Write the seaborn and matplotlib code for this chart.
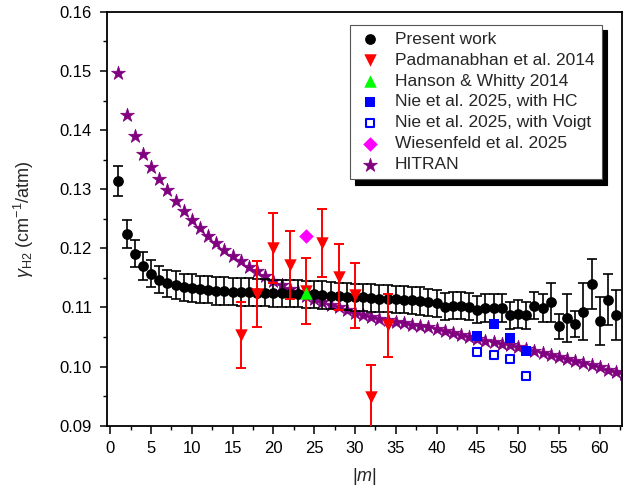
import numpy as np
import matplotlib
matplotlib.use("Agg")
import matplotlib.pyplot as plt
import seaborn as sns
from matplotlib.ticker import MultipleLocator, FormatStrFormatter

# Present work: |m| = 1..62
m_present = list(range(1, 63))
y_present = [0.1314, 0.1224, 0.1191, 0.1170, 0.1157, 0.1147, 0.1141, 0.1138, 0.1134, 0.1133,
             0.1131, 0.1130, 0.1128, 0.1128, 0.1127, 0.1126, 0.1126, 0.1125, 0.1125, 0.1124,
             0.1124, 0.1123, 0.1123, 0.1122, 0.1122, 0.1121, 0.1120, 0.1119, 0.1118, 0.1117,
             0.1117, 0.1116, 0.1115, 0.1115, 0.1114, 0.1113, 0.1112, 0.1111, 0.1109, 0.1107,
             0.1101, 0.1103, 0.1103, 0.1101, 0.1096, 0.1099, 0.1099, 0.1099, 0.1087, 0.1089,
             0.1087, 0.1103, 0.1099, 0.1109, 0.1068, 0.1082, 0.1072, 0.1093, 0.1140, 0.1077,
             0.1113, 0.1087]
err_present = [0.0026, 0.0024] + [0.0023] * 51 + [0.0033, 0.0021, 0.0041, 0.0022, 0.0048,
                                                  0.0042, 0.0041, 0.0043, 0.0042]

# Padmanabhan et al. 2014
m_padma = [16, 18, 20, 22, 24, 26, 28, 30, 32, 34]
y_padma = [0.1053, 0.1123, 0.1201, 0.1172, 0.1128, 0.1209, 0.1151, 0.1121, 0.0948, 0.1070]
err_padma = [0.0056, 0.0056, 0.0059, 0.0057, 0.0056, 0.0058, 0.0056, 0.0055, 0.0054, 0.0053]

# Hanson & Whitty 2014
m_hanson = [24]
y_hanson = [0.1124]

# Nie et al. 2025
m_nie = [45, 47, 49, 51]
y_nie_hc = [0.1051, 0.1072, 0.1048, 0.1027]
y_nie_voigt = [0.1025, 0.1019, 0.1012, 0.0984]

# Wiesenfeld et al. 2025
m_wies = [24]
y_wies = [0.1221]

# HITRAN
m_hitran = list(range(1, 64))
y_hitran = [0.1497, 0.1425, 0.1390, 0.1360, 0.1337, 0.1318, 0.1298, 0.1280, 0.1264, 0.1248,
            0.1234, 0.1221, 0.1209, 0.1198, 0.1187, 0.1178, 0.1169, 0.1161, 0.1153, 0.1145,
            0.1138, 0.1132, 0.1126, 0.1120, 0.1114, 0.1109, 0.1104, 0.1100, 0.1095, 0.1091,
            0.1087, 0.1084, 0.1081, 0.1078, 0.1075, 0.1073, 0.1071, 0.1069, 0.1067, 0.1064,
            0.1060, 0.1057, 0.1054, 0.1050, 0.1047, 0.1044, 0.1041, 0.1039, 0.1036, 0.1033,
            0.1030, 0.1026, 0.1023, 0.1020, 0.1016, 0.1013, 0.1009, 0.1006, 0.1002, 0.0999,
            0.0995, 0.0991, 0.0987]

sns.set_theme(style="ticks")
plt.rcParams['font.family'] = ['Liberation Sans', 'DejaVu Sans']
plt.rcParams['mathtext.fontset'] = 'custom'
plt.rcParams['mathtext.rm'] = 'Liberation Sans'
plt.rcParams['mathtext.it'] = 'Liberation Sans:italic'

fig = plt.figure(figsize=(6.37, 4.95), dpi=100)
ax = fig.add_axes([0.168, 0.140, 0.808, 0.836])

# HITRAN stars (behind)
sns.scatterplot(x=m_hitran, y=y_hitran, marker='*', s=110, color='#800080', edgecolor='#800080',
                linewidth=0.5, label='HITRAN', ax=ax, zorder=2)

# present work
ax.errorbar(m_present, y_present, yerr=err_present, fmt='none', ecolor='black',
            elinewidth=1.2, capsize=3.8, capthick=1.2, zorder=3)
sns.scatterplot(x=m_present, y=y_present, marker='o', s=60, color='black', edgecolor='black',
                linewidth=0, label='Present work', ax=ax, zorder=4)

# Padmanabhan
ax.errorbar(m_padma, y_padma, yerr=err_padma, fmt='none', ecolor='red',
            elinewidth=1.4, capsize=3.8, capthick=1.4, zorder=5)
sns.scatterplot(x=m_padma, y=y_padma, marker='v', s=80, color='red', edgecolor='red',
                linewidth=0, label='Padmanabhan et al. 2014', ax=ax, zorder=6)

sns.scatterplot(x=m_hanson, y=y_hanson, marker='^', s=80, color='#00ff00', edgecolor='#00ff00',
                linewidth=0, label='Hanson & Whitty 2014', ax=ax, zorder=7)

sns.scatterplot(x=m_nie, y=y_nie_hc, marker='s', s=45, color='blue', edgecolor='blue',
                linewidth=0, label='Nie et al. 2025, with HC', ax=ax, zorder=6)
sns.scatterplot(x=m_nie, y=y_nie_voigt, marker='s', s=40, facecolor='white', edgecolor='blue',
                linewidth=1.5, label='Nie et al. 2025, with Voigt', ax=ax, zorder=6)

sns.scatterplot(x=m_wies, y=y_wies, marker='D', s=55, color='#ff00ff', edgecolor='#ff00ff',
                linewidth=0, label='Wiesenfeld et al. 2025', ax=ax, zorder=7)

ax.set_xlim(-0.4, 62.7)
ax.set_ylim(0.09, 0.16)
ax.xaxis.set_major_locator(MultipleLocator(5))
ax.xaxis.set_minor_locator(MultipleLocator(2.5))
ax.yaxis.set_major_locator(MultipleLocator(0.01))
ax.yaxis.set_minor_locator(MultipleLocator(0.005))
ax.yaxis.set_major_formatter(FormatStrFormatter('%.2f'))
ax.tick_params(which='major', direction='out', length=5.4, width=1.1, labelsize=12,
               top=False, right=False, color='black', labelcolor='black', pad=5.5)
ax.tick_params(which='minor', direction='out', length=3, width=1.0, top=False, right=False,
               color='black')
for sp in ax.spines.values():
    sp.set_visible(True)
    sp.set_linewidth(1.3)
    sp.set_color('black')

ax.set_xlabel('|$m$|', fontsize=13, labelpad=7)
ax.set_ylabel(r'$\gamma_{\mathrm{H2}}$ (cm$^{-1}$/atm)', fontsize=13, labelpad=17)

handles, labels = ax.get_legend_handles_labels()
order = ['Present work', 'Padmanabhan et al. 2014', 'Hanson & Whitty 2014',
         'Nie et al. 2025, with HC', 'Nie et al. 2025, with Voigt',
         'Wiesenfeld et al. 2025', 'HITRAN']
hmap = dict(zip(labels, handles))
leg = ax.legend([hmap[k] for k in order], order, loc='upper right',
                bbox_to_anchor=(0.961, 0.969), borderaxespad=0, fontsize=12.5,
                frameon=True, fancybox=False, edgecolor='#555555', framealpha=1,
                shadow={'ox': 4, 'oy': -4, 'color': 'black', 'alpha': 1},
                labelspacing=0.33, handletextpad=0.7, borderpad=0.4, handlelength=1.5)
leg.get_frame().set_linewidth(0.8)

fig.savefig('out.png', dpi=100)
